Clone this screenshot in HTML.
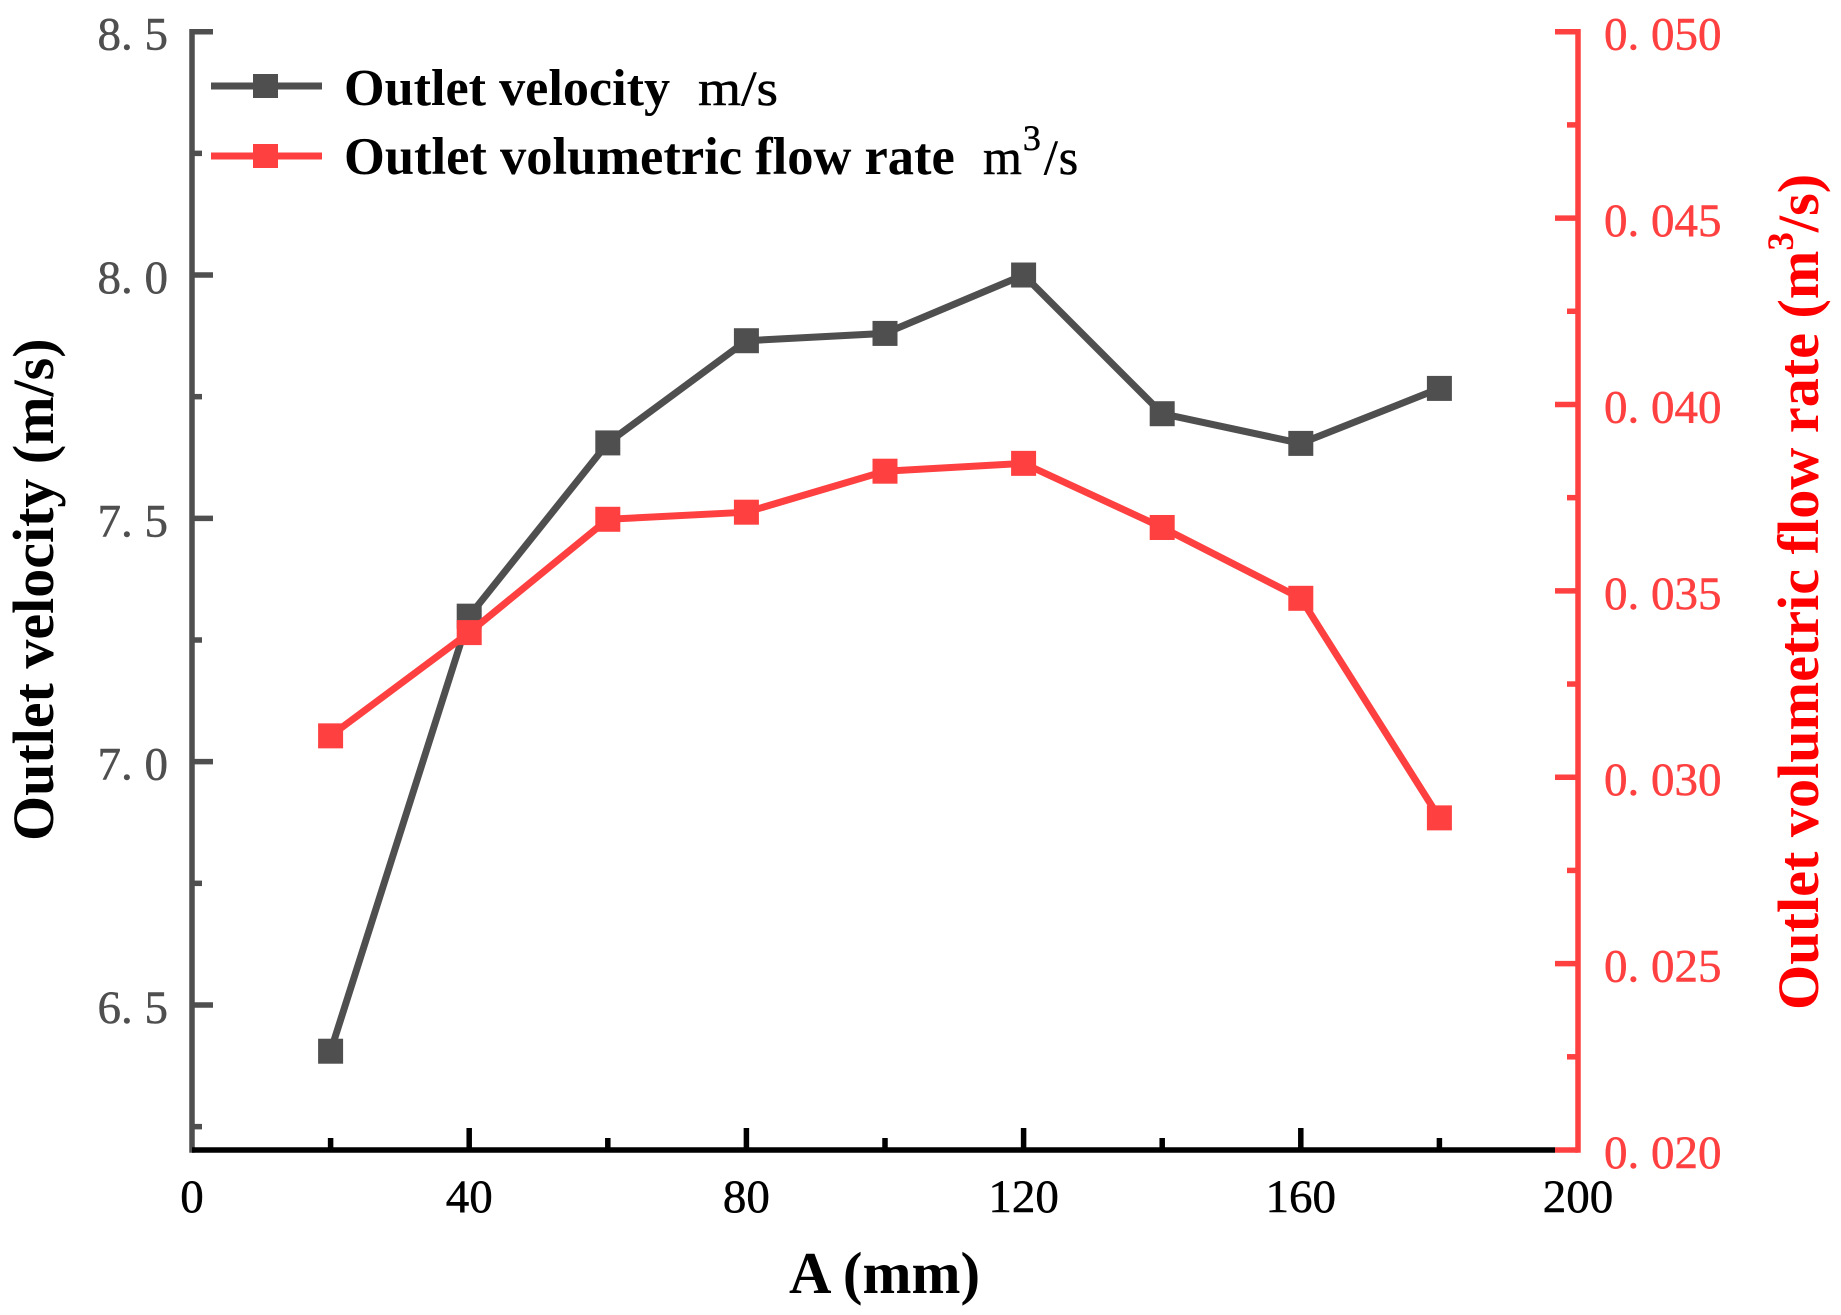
<!DOCTYPE html>
<html lang="en">
<head>
<meta charset="utf-8">
<title>Outlet velocity and volumetric flow rate vs A</title>
<style>
html,body{margin:0;padding:0;background:#fff;}
svg{display:block;font-family:"Liberation Serif",serif;}
.bold{font-weight:bold;}
</style>
</head>
<body>
<svg id="chart" xmlns="http://www.w3.org/2000/svg" width="1841" height="1315" viewBox="0 0 1841 1315">
  <rect x="0" y="0" width="1841" height="1315" fill="#ffffff"/>
  <g id="axes"></g>
  <g id="series"></g>

  <text class="bold" x="789" y="1293" font-size="58.8" fill="#000">A (mm)</text>
  <text class="bold" transform="translate(53,841) rotate(-90)" font-size="58" fill="#000">Outlet velocity (m/s)</text>
  <text class="bold" transform="translate(1818,1010) rotate(-90)" font-size="58.2" fill="#ff0000">Outlet volumetric flow rate (m<tspan dy="-25" font-size="37">3</tspan><tspan dy="25">/s)</tspan></text>

  <g>
    <g>
      <line x1="211" y1="86" x2="322" y2="86" stroke="#4f4f4f" stroke-width="7"/>
      <rect x="253" y="74" width="25" height="24" fill="#4f4f4f"/>
      <text class="bold" x="344" y="105" font-size="52.2" fill="#000">Outlet velocity</text>
      <text x="698" y="105" font-size="50" textLength="80" lengthAdjust="spacingAndGlyphs" fill="#000" stroke="#000" stroke-width="0.5">m/s</text>
    </g>
    <g>
      <line x1="211" y1="156" x2="322" y2="156" stroke="#ff4040" stroke-width="7"/>
      <rect x="253" y="144" width="25" height="24" fill="#ff4040"/>
      <text class="bold" x="344" y="174" font-size="52.5" fill="#000">Outlet volumetric flow rate</text>
      <text x="983" y="174" font-size="50" letter-spacing="1" fill="#000" stroke="#000" stroke-width="0.5">m<tspan dy="-24" font-size="36">3</tspan><tspan dy="24" dx="2">/s</tspan></text>
    </g>
  </g>
</svg>
<script>
// ---- data ----
const categories = [20, 40, 60, 80, 100, 120, 140, 160, 180];
const velocityValues = [6.405, 7.299, 7.655, 7.865, 7.88, 8.0, 7.715, 7.654, 7.767];
const flowRateValues = [0.03111, 0.03388, 0.03692, 0.03711, 0.03821, 0.03842, 0.0367, 0.0348, 0.02891];
const xMajorTicks = [0, 40, 80, 120, 160, 200];
const xMinorTicks = [20, 60, 100, 140, 180];
const leftMajorTicks = [6.5, 7.0, 7.5, 8.0, 8.5];
const leftMajorLabels = ['6. 5', '7. 0', '7. 5', '8. 0', '8. 5'];
const leftMinorTicks = [6.25, 6.75, 7.25, 7.75, 8.25];
const rightMajorTicks = [0.020, 0.025, 0.030, 0.035, 0.040, 0.045, 0.050];
const rightMajorLabels = ['0. 020', '0. 025', '0. 030', '0. 035', '0. 040', '0. 045', '0. 050'];
const rightMinorTicks = [0.0225, 0.0275, 0.0325, 0.0375, 0.0425, 0.0475];
const xDomain = [0, 200];
const leftDomain = [6.202, 8.5];
const rightDomain = [0.02, 0.05];

// ---- axis functions ----
const plot = { left: 192, right: 1578, top: 31.7, bottom: 1150 };
function xPos(v) { return plot.left + (v - xDomain[0]) / (xDomain[1] - xDomain[0]) * (plot.right - plot.left); }
function yLeft(v) { return plot.bottom - (v - leftDomain[0]) / (leftDomain[1] - leftDomain[0]) * (plot.bottom - plot.top); }
function yRight(v) { return plot.bottom - (v - rightDomain[0]) / (rightDomain[1] - rightDomain[0]) * (plot.bottom - plot.top); }

const NS = 'http://www.w3.org/2000/svg';
const axesG = document.getElementById('axes');
const seriesG = document.getElementById('series');
function make(tag, attrs, parent) {
  const el = document.createElementNS(NS, tag);
  for (const k in attrs) el.setAttribute(k, attrs[k]);
  parent.appendChild(el);
  return el;
}
const GRAY = '#4f4f4f', RED = '#ff4040', BLACK = '#000000';
let el;

// right axis
rightMinorTicks.forEach(function (v) {
  el = make('line', { x1: plot.right, x2: plot.right - 11, y1: yRight(v), y2: yRight(v), stroke: RED, 'stroke-width': 5.5 }, axesG);
  
  
});
rightMajorTicks.forEach(function (v, i) {
  el = make('line', { x1: plot.right, x2: plot.right - 23, y1: yRight(v), y2: yRight(v), stroke: RED, 'stroke-width': 5.5 }, axesG);
  
  
  el = make('text', { x: 1604, y: yRight(v) + 18, 'font-size': 47, fill: RED, stroke: RED, 'stroke-width': 0.5 }, axesG);
  
  
  el.textContent = rightMajorLabels[i];
});

// left axis
leftMinorTicks.forEach(function (v) {
  el = make('line', { x1: plot.left, x2: plot.left + 10, y1: yLeft(v), y2: yLeft(v), stroke: GRAY, 'stroke-width': 5.5 }, axesG);
  
  
});
leftMajorTicks.forEach(function (v, i) {
  el = make('line', { x1: plot.left, x2: plot.left + 21, y1: yLeft(v), y2: yLeft(v), stroke: GRAY, 'stroke-width': 5.5 }, axesG);
  
  
  el = make('text', { x: 168, y: yLeft(v) + 18, 'font-size': 47, fill: GRAY, stroke: GRAY, 'stroke-width': 0.5, 'text-anchor': 'end' }, axesG);
  
  
  el.textContent = leftMajorLabels[i];
});

// x axis ticks and labels
xMinorTicks.forEach(function (v) {
  el = make('line', { x1: xPos(v), x2: xPos(v), y1: plot.bottom, y2: plot.bottom - 12, stroke: BLACK, 'stroke-width': 5.5 }, axesG);
  
  
});
xMajorTicks.forEach(function (v) {
  if (v > xDomain[0] && v < xDomain[1]) {
    el = make('line', { x1: xPos(v), x2: xPos(v), y1: plot.bottom, y2: plot.bottom - 22, stroke: BLACK, 'stroke-width': 5.5 }, axesG);
    
    
  }
  el = make('text', { x: xPos(v), y: 1212, 'font-size': 47, fill: BLACK, stroke: BLACK, 'stroke-width': 0.5, 'text-anchor': 'middle' }, axesG);
  
  
  el.textContent = String(v);
});

// axis lines
el = make('line', { x1: plot.left, x2: plot.left, y1: plot.top - 2.7, y2: plot.bottom + 2.8, stroke: GRAY, 'stroke-width': 5.5 }, axesG);


el = make('line', { x1: plot.left, x2: plot.right - 23, y1: plot.bottom, y2: plot.bottom, stroke: BLACK, 'stroke-width': 5.6 }, axesG);


el = make('line', { x1: plot.right, x2: plot.right, y1: plot.top - 2.7, y2: plot.bottom + 2.8, stroke: RED, 'stroke-width': 5.5 }, axesG);



// series
function pointsFor(values, yFn) {
  return values.map(function (v, i) { return xPos(categories[i]) + ',' + yFn(v); }).join(' ');
}
el = make('polyline', { points: pointsFor(velocityValues, yLeft), fill: 'none', stroke: GRAY, 'stroke-width': 7, 'stroke-linejoin': 'miter' }, seriesG);


velocityValues.forEach(function (v, i) {
  el = make('rect', { x: xPos(categories[i]) - 12.5, y: yLeft(v) - 12.5, width: 25, height: 25, fill: GRAY }, seriesG);
  
  
});
el = make('polyline', { points: pointsFor(flowRateValues, yRight), fill: 'none', stroke: RED, 'stroke-width': 7, 'stroke-linejoin': 'miter' }, seriesG);


flowRateValues.forEach(function (v, i) {
  el = make('rect', { x: xPos(categories[i]) - 12.5, y: yRight(v) - 12.5, width: 25, height: 25, fill: RED }, seriesG);
  
  
});
</script>
</body>
</html>
